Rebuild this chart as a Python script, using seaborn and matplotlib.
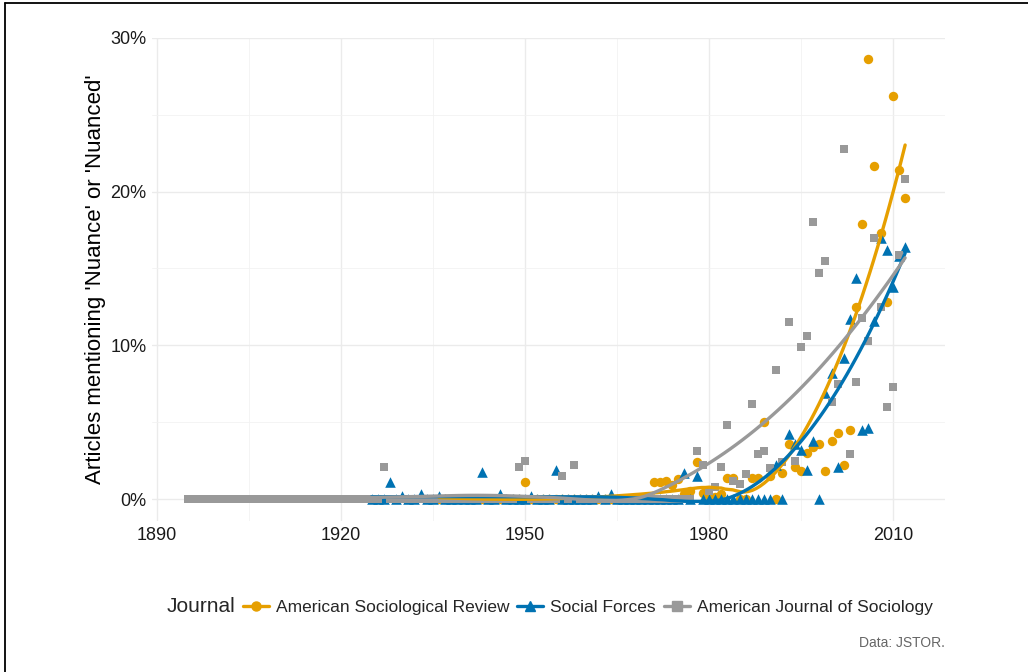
import numpy as np
import pandas as pd
import seaborn as sns
import matplotlib.pyplot as plt
from matplotlib.lines import Line2D
from matplotlib.ticker import MultipleLocator, FuncFormatter

# journals, colours, markers (legend order)
journals = ["American Sociological Review", "Social Forces", "American Journal of Sociology"]
colors = ["#E69F00", "#0072B2", "#999999"]
markers = ["o", "^", "s"]
marker_sizes = [46, 58, 38]

# share of articles mentioning 'nuance' (%), one value per year
asr_years = list(range(1936, 2013))
asr_pct = [
    0, 0, 0, 0,
    0, 0, 0, 0, 0, 0, 0, 0, 0, 0,
    1.1, 0, 0, 0, 0, 0, 0, 0, 0, 0,
    0, 0, 0, 0, 0, 0, 0, 0, 0, 0,
    0, 1.1, 1.1, 1.2, 0.9, 1.3, 0.3, 0.5, 2.4, 0.4,
    0.2, 0.1, 0.3, 1.4, 1.4, 0, 0, 1.4, 1.4, 5.0,
    1.5, 0, 1.7, 3.6, 2.1, 1.8, 3.0, 3.4, 3.6, 1.8,
    3.8, 4.3, 2.2, 4.5, 12.5, 17.9, 28.6, 21.7, 17.3, 12.8,
    26.2, 21.4, 19.6,
]

sf_years = list(range(1925, 2013))
sf_pct = [
    0, 0, 0, 1.1, 0,
    0.2, 0, 0, 0.3, 0, 0, 0.2, 0, 0, 0,
    0, 0, 0, 1.75, 0, 0, 0.3, 0, 0, 0,
    0, 0.2, 0, 0, 0, 1.9, 0, 0, 0, 0,
    0, 0, 0.2, 0, 0.3, 0, 0, 0, 0, 0,
    0, 0, 0, 0, 0, 0, 1.7, 0, 1.5, 0,
    0, 0, 0, 0, 0, 0, 0, 0, 0, 0,
    0, 2.2, 0, 4.2, 3.6, 3.2, 1.9, 3.8, 0, 6.9,
    8.2, 2.1, 9.2, 11.7, 14.4, 4.5, 4.6, 11.6, 17.0, 16.2,
    13.8, 15.8, 16.4,
]

ajs_years = list(range(1895, 2013))
ajs_pct = [
    0, 0, 0, 0, 0,
    0, 0, 0, 0, 0, 0, 0, 0, 0, 0,
    0, 0, 0, 0, 0, 0, 0, 0, 0, 0,
    0, 0, 0, 0, 0, 0, 0, 2.1, 0, 0,
    0, 0, 0, 0, 0, 0, 0, 0, 0, 0,
    0, 0, 0, 0, 0, 0, 0, 0, 0, 2.1,
    2.5, 0, 0, 0, 0, 0, 1.5, 0, 2.2, 0,
    0, 0, 0, 0, 0, 0, 0, 0, 0, 0,
    0, 0, 0, 0, 0, 0, 0, 0, 3.1, 2.2,
    0.5, 0.8, 2.1, 4.8, 1.2, 1.0, 1.6, 6.2, 2.9, 3.1,
    2.0, 8.4, 2.4, 11.5, 2.5, 9.9, 10.6, 18.0, 14.7, 15.5,
    6.3, 7.5, 22.8, 2.9, 7.6, 11.8, 10.3, 17.0, 12.5, 6.0,
    7.3, 15.9, 20.8,
]

series = {
    journals[0]: (asr_years, asr_pct),
    journals[1]: (sf_years, sf_pct),
    journals[2]: (ajs_years, ajs_pct),
}


def loess(x, y, grid, span=0.75):
    # local quadratic fit with tricube weights (like R's loess defaults)
    x = np.asarray(x, float)
    y = np.asarray(y, float)
    n = len(x)
    q = int(np.floor(n * span))
    fit = []
    for x0 in grid:
        d = np.abs(x - x0)
        h = np.sort(d)[q - 1]
        w = np.clip(1 - (d / h) ** 3, 0, None) ** 3
        X = np.column_stack([np.ones(n), x - x0, (x - x0) ** 2])
        sw = np.sqrt(w)
        beta = np.linalg.lstsq(X * sw[:, None], y * sw, rcond=None)[0]
        fit.append(beta[0])
    return np.array(fit)


points = []
smooth = []
for name, (yrs, vals) in series.items():
    points.append(pd.DataFrame({"year": yrs, "pct": vals, "journal": name}))
    grid = np.linspace(min(yrs), max(yrs), 120)
    smooth.append(pd.DataFrame({"year": grid, "fit": loess(yrs, vals, grid), "journal": name}))
points = pd.concat(points, ignore_index=True)
smooth = pd.concat(smooth, ignore_index=True)

sns.set_theme(style="white")
plt.rcParams["font.family"] = ["Liberation Sans", "DejaVu Sans"]

fig = plt.figure(figsize=(10.28, 6.72), dpi=100)
ax = fig.add_axes([152 / 1028, 1 - 521 / 672, (945 - 152) / 1028, (521 - 37.5) / 672])

for name, col, mk, sz in zip(journals, colors, markers, marker_sizes):
    sns.scatterplot(data=points[points["journal"] == name], x="year", y="pct",
                    color=col, marker=mk, s=sz, linewidth=0, ax=ax, zorder=2)

sns.lineplot(data=smooth, x="year", y="fit", hue="journal", hue_order=journals,
             palette=colors, lw=2.4, legend=False, ax=ax, zorder=3)

ax.set_xlim(1889.2, 2018.5)
ax.set_ylim(-1.43, 30.03)
ax.xaxis.set_major_locator(MultipleLocator(30))
ax.xaxis.set_minor_locator(MultipleLocator(15))
ax.yaxis.set_major_locator(MultipleLocator(10))
ax.yaxis.set_minor_locator(MultipleLocator(5))
ax.yaxis.set_major_formatter(FuncFormatter(lambda v, p: f"{v:.0f}%"))
ax.grid(which="major", color="#EBEBEB", lw=1.0)
ax.grid(which="minor", color="#F2F2F2", lw=0.6)
ax.set_axisbelow(True)
for sp in ax.spines.values():
    sp.set_visible(False)
ax.tick_params(which="both", length=0, labelsize=13, colors="#1a1a1a", pad=4)
ax.set_xlabel("")
ax.set_ylabel("Articles mentioning 'Nuance' or 'Nuanced'", fontsize=16, color="black", labelpad=3)

# legend: title on the left, keys in one row
handles = [Line2D([], [], color=c, marker=m, lw=2.4, markersize=6.5) for c, m in zip(colors, markers)]
fig.text(167 / 1028, 1 - 607 / 672, "Journal", fontsize=15, va="center", ha="left")
fig.legend(handles, journals, loc="center left", bbox_to_anchor=(243 / 1028, 1 - 607 / 672),
           ncol=3, frameon=False, fontsize=12.5, handlelength=1.5, handletextpad=0.4,
           columnspacing=0.45, borderpad=0, borderaxespad=0)

fig.text(945 / 1028, 1 - 643 / 672, "Data: JSTOR.", ha="right", va="center",
         fontsize=10, color="#666666")

# frame around the picture (left and top edges visible in the reference)
fig.add_artist(Line2D([5 / 1028, 5 / 1028], [0, 1 - 3 / 672], transform=fig.transFigure, color="black", lw=1.3))
fig.add_artist(Line2D([5 / 1028, 1], [1 - 3 / 672, 1 - 3 / 672], transform=fig.transFigure, color="black", lw=1.3))

fig.savefig("out.png", dpi=100)
